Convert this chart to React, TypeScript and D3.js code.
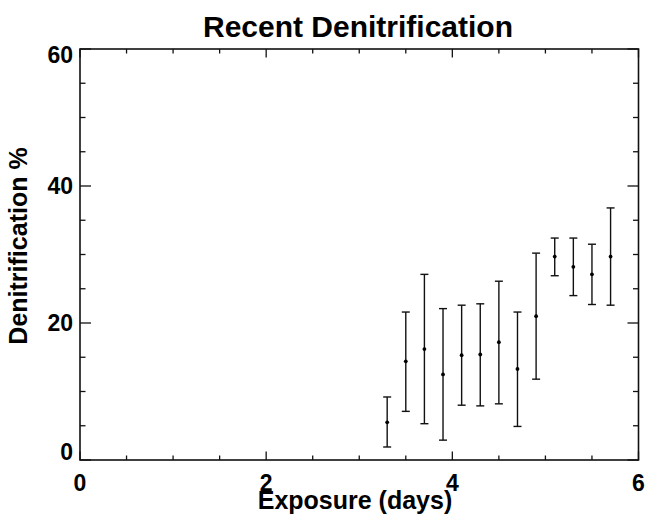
import React from "react";
import * as d3 from "d3";

const exposure = [3.3, 3.5, 3.7, 3.9, 4.1, 4.3, 4.5, 4.7, 4.9, 5.1, 5.3, 5.5, 5.7];
const meanDenit = [5.5, 14.4, 16.2, 12.5, 15.3, 15.4, 17.2, 13.3, 21.0, 29.7, 28.2, 27.1, 29.7];
const upperDenit = [9.2, 21.6, 27.1, 22.1, 22.6, 22.8, 26.1, 21.6, 30.2, 32.4, 32.4, 31.5, 36.8];
const lowerDenit = [1.9, 7.1, 5.3, 2.9, 8.0, 7.9, 8.2, 4.9, 11.8, 26.9, 24.0, 22.7, 22.6];
const xTicks = [0, 2, 4, 6];
const yTicks = [0, 20, 40, 60];
const xMinorTicks = d3.range(0, 6.01, 0.5);
const yMinorTicks = d3.range(0, 60.1, 5);

const W = 645, H = 520;
const L = 80, R = 638.5, T = 49, B = 460;

export default function App() {
  const x = d3.scaleLinear().domain([0, 6]).range([L, R]);
  const y = d3.scaleLinear().domain([0, 60]).range([B, T]);
  const stroke = "#111";
  const font = "'Liberation Sans', Arial, Helvetica, sans-serif";
  const cap = 4;
  return (
    <svg width={W} height={H} style={{ position: "absolute", left: 0, top: 0, background: "#fff" }}>
      <rect x={L} y={T} width={R - L} height={B - T} fill="none" stroke={stroke} strokeWidth={1.6} />
      {xMinorTicks.map((v) => {
        const major = xTicks.includes(v);
        const len = major ? 8.5 : 4.5;
        return (
          <g key={"xt" + v}>
            <line x1={x(v)} x2={x(v)} y1={B} y2={B - len} stroke={stroke} strokeWidth={1.3} />
            <line x1={x(v)} x2={x(v)} y1={T} y2={T + len} stroke={stroke} strokeWidth={1.3} />
          </g>
        );
      })}
      {yMinorTicks.map((v) => {
        const major = yTicks.includes(v);
        const len = major ? 11 : 5.5;
        return (
          <g key={"yt" + v}>
            <line x1={L} x2={L + len} y1={y(v)} y2={y(v)} stroke={stroke} strokeWidth={1.3} />
            <line x1={R} x2={R - len} y1={y(v)} y2={y(v)} stroke={stroke} strokeWidth={1.3} />
          </g>
        );
      })}
      {xTicks.map((v) => (
        <text key={"xl" + v} x={x(v)} y={490.5} textAnchor="middle" fontFamily={font} fontWeight="bold" fontSize={23} fill="#000">
          {v}
        </text>
      ))}
      {yTicks.map((v) => {
        let cy = y(v);
        if (cy + 8.3 > B) cy = B - 8.3;
        if (cy - 8.3 < T - 2.3) cy = T - 2.3 + 8.3;
        return (
          <text key={"yl" + v} x={73} y={cy + 8.3} textAnchor="end" fontFamily={font} fontWeight="bold" fontSize={23} fill="#000">
            {v}
          </text>
        );
      })}
      {exposure.map((v, i) => (
        <g key={"e" + i}>
          <line x1={x(v)} x2={x(v)} y1={y(upperDenit[i])} y2={y(lowerDenit[i])} stroke={stroke} strokeWidth={1.4} />
          <line x1={x(v) - cap} x2={x(v) + cap} y1={y(upperDenit[i])} y2={y(upperDenit[i])} stroke={stroke} strokeWidth={1.4} />
          <line x1={x(v) - cap} x2={x(v) + cap} y1={y(lowerDenit[i])} y2={y(lowerDenit[i])} stroke={stroke} strokeWidth={1.4} />
          <circle cx={x(v)} cy={y(meanDenit[i])} r={1.9} fill="#000" />
        </g>
      ))}
      <text x={358} y={36.5} textAnchor="middle" fontFamily={font} fontWeight="bold" fontSize={30} fill="#000">
        Recent Denitrification
      </text>
      <text x={355} y={509} textAnchor="middle" fontFamily={font} fontWeight="bold" fontSize={25} fill="#000">
        Exposure (days)
      </text>
      <text transform={`translate(27, 246) rotate(-90)`} textAnchor="middle" fontFamily={font} fontWeight="bold" fontSize={25} fill="#000">
        Denitrification %
      </text>
    </svg>
  );
}
